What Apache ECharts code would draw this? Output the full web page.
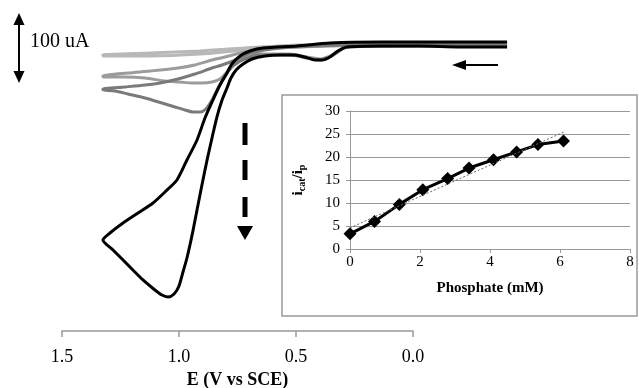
<!DOCTYPE html>
<html>
<head>
<meta charset="utf-8">
<script src="https://cdn.jsdelivr.net/npm/echarts@6/dist/echarts.min.js"></script>
<style>html,body{margin:0;padding:0;background:#fff;}#c{width:639px;height:388px;}</style>
</head>
<body>
<div id="c"></div>
<script>
// ---- Main CV curves: [potential (V vs SCE), current (uA)] ----
const cv1Forward = [[-0.402,1.4],[0.056,1.4],[0.483,-1.4],[0.718,-5.7],[0.910,-10],[1.124,-12.9],[1.325,-15.7]];
const cv1Reverse = [[1.325,-17.1],[1.124,-17.1],[0.910,-14.3],[0.718,-8.6],[0.483,-4.3],[0.056,-1.4],[-0.402,-1.4]];

const cv2Forward = [[-0.402,1.4],[0.269,-1.4],[0.568,-4.3],[0.718,-11.4],[0.803,-18.6],[0.859,-22.9],[0.932,-30],[1.004,-34.3],[1.124,-38.6],[1.218,-41.4],[1.325,-45.7]];
const cv2Reverse = [[1.325,-47.1],[1.231,-47.1],[1.145,-48.6],[1.060,-52.9],[0.996,-54.3],[0.944,-55.7],[0.902,-55.7],[0.859,-54.3],[0.825,-50],[0.795,-40],[0.761,-27.1],[0.718,-18.6],[0.654,-14.3],[0.526,-14.3],[0.453,-18.6],[0.397,-21.4],[0.346,-15.7],[0.282,-4.3],[0.056,-2.9],[-0.402,-2.9]];

const cv3Forward = [[-0.402,1.4],[0.269,-1.4],[0.568,-5.7],[0.697,-12.9],[0.761,-22.9],[0.816,-30],[0.859,-34.3],[0.932,-42.9],[1.004,-50],[1.081,-55.7],[1.145,-58.6],[1.231,-61.4],[1.325,-64.3]];
const cv3Reverse = [[1.325,-65.7],[1.274,-67.1],[1.218,-71.4],[1.145,-77.1],[1.073,-84.3],[1.017,-90],[0.974,-94.3],[0.940,-97.1],[0.910,-97.1],[0.885,-92.9],[0.859,-80],[0.833,-62.9],[0.803,-45.7],[0.769,-31.4],[0.718,-21.4],[0.654,-15.7],[0.526,-15.7],[0.453,-20],[0.397,-22.9],[0.346,-17.1],[0.282,-4.3],[0.056,-2.9],[-0.402,-2.9]];

const cv4Forward = [[-0.402,2.9],[-0.201,2.9],[-0.030,2.9],[0.141,2.9],[0.355,1.4],[0.496,-2.9],[0.641,-5.7],[0.697,-10],[0.739,-17.1],[0.774,-28.6],[0.795,-41.4],[0.825,-58.6],[0.855,-80],[0.889,-105.7],[0.923,-137.1],[0.966,-165.7],[1.009,-194.3],[1.060,-211.4],[1.111,-227.1],[1.175,-241.4],[1.239,-255.7],[1.295,-270],[1.325,-280]];
const cv4Reverse = [[1.325,-280],[1.282,-294.3],[1.239,-308.6],[1.197,-322.9],[1.154,-337.1],[1.103,-351.4],[1.073,-358.6],[1.047,-361.4],[1.021,-357.1],[1.000,-345.7],[0.983,-325.7],[0.966,-305.7],[0.944,-272.9],[0.923,-237.1],[0.902,-201.4],[0.880,-165.7],[0.859,-134.3],[0.838,-104.3],[0.816,-80],[0.795,-62.9],[0.778,-48.6],[0.756,-37.1],[0.726,-28.6],[0.688,-21.4],[0.632,-17.1],[0.568,-15.7],[0.504,-15.7],[0.462,-18.6],[0.419,-22.9],[0.389,-22.9],[0.355,-18.6],[0.321,-10],[0.282,-4.3],[0.141,-2.9],[-0.030,-2.9],[-0.201,-4.3],[-0.402,-4.3]];

const cvColors = ['#b8b8b8', '#9c9c9c', '#7a7a7a', '#000000'];

// ---- Inset data ----
const phosphate = [0, 0.70, 1.41, 2.08, 2.79, 3.40, 4.10, 4.76, 5.37, 6.10];
const ratio = [3.3, 6.0, 9.7, 12.9, 15.3, 17.6, 19.4, 21.1, 22.7, 23.5];
const trendX = [0, 6.1];
const trendY = [4.6, 25.4];

const serif = 'Liberation Serif';
const chart = echarts.init(document.getElementById('c'));

const cvSets = [[cv1Forward, cv1Reverse], [cv2Forward, cv2Reverse], [cv3Forward, cv3Reverse], [cv4Forward, cv4Reverse]];
const cvSeries = cvSets.map((s, i) => ({
  type: 'line', xAxisIndex: 1, yAxisIndex: 1,
  data: s[0].concat(s[1]),
  showSymbol: false, smooth: 0.25, z: 2 + i,
  lineStyle: { color: cvColors[i], width: 3 },
  silent: true, animation: false
}));

chart.setOption({
  animation: false,
  backgroundColor: '#fff',
  grid: [
    { left: 62, right: 226, top: 16, bottom: 57, outerBoundsMode: 'none', containLabel: false },
    { left: 62, right: 120.7, top: 16, bottom: 57, outerBoundsMode: 'none', containLabel: false },
    { left: 350, right: 9, top: 111, bottom: 139, outerBoundsMode: 'none', containLabel: false }
  ],
  xAxis: [
    { gridIndex: 0, type: 'value', min: 0, max: 1.5, interval: 0.5, inverse: true,
      axisLine: { onZero: false, lineStyle: { color: '#999', width: 1.5 } },
      axisTick: { show: true, inside: false, length: 6, lineStyle: { color: '#999', width: 1.5 } },
      splitLine: { show: false },
      axisLabel: { color: '#000', fontFamily: serif, fontSize: 18, margin: 17, formatter: v => v.toFixed(1) },
      name: 'E (V vs SCE)', nameLocation: 'middle', nameGap: 40,
      nameTextStyle: { color: '#000', fontFamily: serif, fontSize: 18, fontWeight: 'bold' } },
    { gridIndex: 1, type: 'value', min: -0.45, max: 1.5, inverse: true, show: false },
    { gridIndex: 2, type: 'value', min: 0, max: 8, interval: 2,
      axisLine: { onZero: false, lineStyle: { color: '#999', width: 1 } },
      axisTick: { show: true, length: 4, lineStyle: { color: '#999' } },
      splitLine: { show: false },
      axisLabel: { color: '#000', fontFamily: serif, fontSize: 15, margin: 6 },
      name: 'Phosphate (mM)', nameLocation: 'middle', nameGap: 32,
      nameTextStyle: { color: '#000', fontFamily: serif, fontSize: 15, fontWeight: 'bold' } }
  ],
  yAxis: [
    { gridIndex: 0, type: 'value', min: -410, max: 40, show: false },
    { gridIndex: 1, type: 'value', min: -410, max: 40, show: false },
    { gridIndex: 2, type: 'value', min: 0, max: 30, interval: 5,
      axisLine: { show: true, onZero: false, lineStyle: { color: '#999', width: 1 } },
      axisTick: { show: true, length: 4, lineStyle: { color: '#999' } },
      splitLine: { show: true, lineStyle: { color: '#999', width: 1 } },
      axisLabel: { color: '#000', fontFamily: serif, fontSize: 15, margin: 10 },
      name: '{a|i}{b|cat}{a|/i}{b|p}', nameLocation: 'middle', nameGap: 43, nameRotate: 90,
      nameTextStyle: { color: '#000', fontFamily: serif, fontSize: 15, fontWeight: 'bold',
        rich: {
          a: { fontFamily: serif, fontSize: 15, fontWeight: 'bold', color: '#000' },
          b: { fontFamily: serif, fontSize: 10, fontWeight: 'bold', color: '#000', padding: [7, 0, 0, 0] }
        } } }
  ],
  graphic: [
    { type: 'rect', shape: { x: 282, y: 95, width: 355, height: 221 }, style: { fill: 'none', stroke: '#9a9a9a', lineWidth: 1.5 }, silent: true },
    { type: 'line', shape: { x1: 19, y1: 22, x2: 19, y2: 74 }, style: { stroke: '#000', lineWidth: 2 }, silent: true },
    { type: 'polygon', shape: { points: [[19, 13], [13.5, 25], [24.5, 25]] }, style: { fill: '#000' }, silent: true },
    { type: 'polygon', shape: { points: [[19, 83], [13.5, 71], [24.5, 71]] }, style: { fill: '#000' }, silent: true },
    { type: 'text', x: 30, y: 42, style: { text: '100 uA', fontFamily: serif, fontSize: 20, fill: '#000', verticalAlign: 'middle' }, silent: true },
    { type: 'line', shape: { x1: 463, y1: 65, x2: 498, y2: 65 }, style: { stroke: '#000', lineWidth: 2 }, silent: true },
    { type: 'polygon', shape: { points: [[452, 65], [466, 60], [466, 70]] }, style: { fill: '#000' }, silent: true },
    { type: 'rect', shape: { x: 242.5, y: 123, width: 5, height: 22 }, style: { fill: '#000' }, silent: true },
    { type: 'rect', shape: { x: 242.5, y: 160, width: 5, height: 20 }, style: { fill: '#000' }, silent: true },
    { type: 'rect', shape: { x: 242.5, y: 197, width: 5, height: 20 }, style: { fill: '#000' }, silent: true },
    { type: 'polygon', shape: { points: [[237, 226], [253, 226], [245, 240]] }, style: { fill: '#000' }, silent: true }
  ],
  series: cvSeries.concat([
    { type: 'line', xAxisIndex: 2, yAxisIndex: 2, z: 5,
      data: trendX.map((x, i) => [x, trendY[i]]),
      showSymbol: false, lineStyle: { color: '#666', width: 1, type: [2, 2] }, silent: true },
    { type: 'line', xAxisIndex: 2, yAxisIndex: 2, z: 4,
      data: phosphate.map((x, i) => [x, ratio[i]]),
      symbol: 'diamond', symbolSize: 13, showSymbol: true,
      itemStyle: { color: '#000' }, lineStyle: { color: '#000', width: 3 }, silent: true }
  ])
});
</script>
</body>
</html>
